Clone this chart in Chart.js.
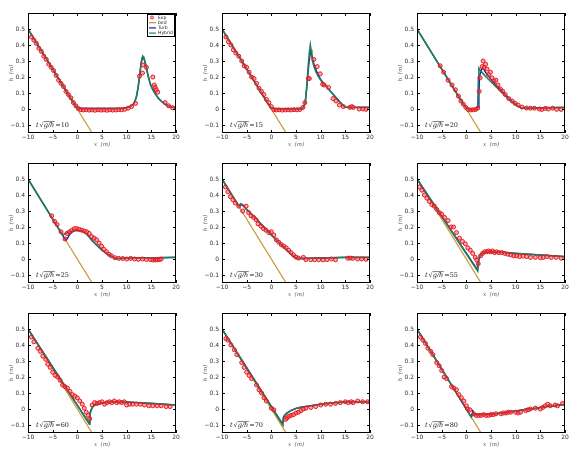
<!DOCTYPE html>
<html>
<head>
<meta charset="utf-8">
<script src="https://cdn.jsdelivr.net/npm/chart.js@4.4.0/dist/chart.umd.min.js"></script>
<style>
  body { margin: 0; background: #fff; }
  #wrap { position: relative; width: 571px; height: 452px; }
  .cell { position: absolute; width: 190px; height: 150px; }
</style>
</head>
<body>
<div id="wrap"></div>
<script>
// t*sqrt(g/h) for each panel
const times = [10, 15, 20, 25, 30, 55, 60, 70, 80];
const xTicks = [-10, -5, 0, 5, 10, 15, 20];
const yTicks = [-0.1, 0, 0.1, 0.2, 0.3, 0.4, 0.5];
const bed = [[-10, 0.5], [3, -0.15]];

// experiment points [x, h]
const exp10 = [[-9.3,0.45],[-8.8,0.43],[-8.3,0.41],[-7.8,0.38],[-7.3,0.36],[-6.8,0.33],[-6.3,0.31],[-5.8,0.28],[-5.3,0.26],[-4.8,0.24],[-4.3,0.21],[-3.8,0.18],[-3.3,0.16],[-2.8,0.14],[-2.3,0.11],[-1.8,0.09],[-1.3,0.07],[-0.8,0.04],[-0.3,0.02],[0.2,0.003],
  [0.7,-0.004],[1.2,-0.006],[1.8,-0.005],[2.4,-0.007],[3,-0.006],[3.6,-0.008],[4.2,-0.005],[4.8,-0.007],[5.4,-0.006],[6,-0.008],[6.6,-0.005],[7.2,-0.007],[7.8,-0.006],[8.4,-0.004],[9,-0.005],[9.6,-0.002],[10.3,0.005],[11,0.015],[11.8,0.035],
  [12.6,0.205],[13.2,0.225],[13.3,0.275],[14,0.26],[15.3,0.2],[15.6,0.15],[15.8,0.135],[16,0.12],[16.3,0.105],[17.8,0.04],[18.5,0.02],[19.3,0.008]];
const exp15 = [[-9.2,0.45],[-8.7,0.42],[-8.2,0.4],[-7.7,0.37],[-7.2,0.35],[-6.6,0.33],[-6,0.3],[-5.5,0.27],[-5,0.26],[-4.5,0.23],[-4,0.2],[-3.5,0.19],[-3,0.16],[-2.5,0.13],[-2,0.11],[-1.5,0.09],[-1,0.06],[-0.5,0.04],[0,0.015],
  [0.5,-0.004],[1,-0.006],[1.6,-0.005],[2.2,-0.007],[2.8,-0.006],[3.4,-0.005],[4,-0.006],[4.6,-0.004],[5.2,-0.005],[5.8,-0.003],[6.4,0.01],[6.8,0.04],[7.5,0.19],[7.7,0.19],[8.6,0.31],[9.3,0.265],[9.9,0.22],[10.4,0.155],[10.7,0.15],[11.6,0.135],[12.5,0.065],[13.1,0.05],[13.8,0.025],[14.6,0.015],[15.9,0.01],[16.3,0.015],[16.6,0.01],[17.8,0.0],[18.6,0.0],[19.2,-0.002]];
const exp20 = [[-5.3,0.27],[-4.6,0.23],[-3.7,0.18],[-2.9,0.15],[-2.2,0.12],[-1.6,0.08],[-1.1,0.05],[-0.6,0.03],[-0.1,0.01],[0.4,-0.004],[0.9,-0.006],[1.4,-0.005],[1.9,-0.003],[2.3,0.005],[2.6,0.11],[2.8,0.195],[3.2,0.265],[3.4,0.3],[3.6,0.26],[3.9,0.28],[4.2,0.25],[4.5,0.215],[4.9,0.23],[5.2,0.195],[5.6,0.175],[6,0.18],[6.4,0.15],[6.9,0.125],[7.4,0.11],[7.9,0.09],[8.6,0.065],[9.3,0.05],[9.9,0.035],[10.5,0.025],[11.3,0.012],[12.2,0.006],[13,0.005],[13.8,0.005],[14.8,0.0],[15.3,-0.003],[16,0.004],[16.6,0.0],[17.5,0.005],[18.3,-0.002],[19.2,-0.003]];
const exp25 = [[-5.2,0.27],[-4.6,0.235],[-4.1,0.215],[-3.3,0.17],[-2.5,0.125],[-2.1,0.16],[-1.6,0.17],[-1.1,0.18],[-0.6,0.19],[-0.1,0.19],[0.4,0.185],[0.9,0.18],[1.4,0.175],[1.9,0.17],[2.4,0.16],[2.9,0.14],[3.4,0.13],[3.9,0.12],[4.4,0.1],[4.9,0.08],[5.4,0.06],[5.9,0.045],[6.4,0.03],[6.9,0.02],[7.6,0.008],[8.4,0.004],[9.2,0.003],[10,0.0],[10.8,0.004],[11.6,0.0],[12.4,-0.002],[13.2,0.0],[14,-0.003],[14.8,-0.004],[15.3,-0.006],[15.8,-0.006],[16.2,-0.005],[16.6,-0.004],[17,0.0]];
const exp30 = [[-9.3,0.45],[-8.8,0.42],[-8.3,0.39],[-7.8,0.37],[-7.3,0.35],[-6.6,0.33],[-5.8,0.3],[-5.1,0.33],[-4.6,0.29],[-4.1,0.27],[-3.6,0.26],[-3.1,0.245],[-2.7,0.22],[-2.1,0.205],[-1.6,0.19],[-1.1,0.18],[-0.5,0.165],[0,0.17],[0.5,0.15],[1,0.12],[1.5,0.105],[2,0.09],[2.5,0.08],[3,0.07],[3.5,0.055],[4,0.04],[4.5,0.025],[5,0.012],[5.5,0.006],[6.5,0.01],[7,-0.004],[8,-0.005],[8.8,-0.004],[9.6,-0.005],[10.5,-0.006],[11.3,-0.004],[12.2,0.0],[13,-0.005],[15.5,0.005],[16,0.006],[16.5,0.004],[17.5,0.0],[18.3,0.0],[19.2,-0.002]];
const exp55 = [[-9.5,0.45],[-9,0.43],[-8.5,0.4],[-8,0.38],[-7.5,0.36],[-7,0.34],[-6.5,0.33],[-6,0.31],[-5.5,0.29],[-5,0.28],[-4.4,0.26],[-3.7,0.24],[-3.1,0.2],[-2.6,0.2],[-2,0.165],[-1.4,0.13],[-0.8,0.11],[-0.2,0.095],[0.3,0.07],[0.8,0.055],[1.3,0.035],[1.8,0.01],[2.1,-0.005],[2.4,-0.03],[2.9,0.02],[3.3,0.035],[3.7,0.045],[4.1,0.045],[4.5,0.05],[4.9,0.045],[5.3,0.05],[5.7,0.04],[6.1,0.045],[6.6,0.04],[7.2,0.04],[7.8,0.035],[8.4,0.03],[9,0.025],[9.6,0.02],[10.2,0.02],[10.8,0.015],[11.5,0.018],[12.2,0.015],[13,0.01],[14,0.01],[15,0.008],[15.6,0.01],[16.3,0.015],[17.2,0.01],[18.2,0.01],[19.2,0.005]];
const exp60 = [[-9.3,0.45],[-8.8,0.42],[-8,0.38],[-7.5,0.36],[-7,0.33],[-6.4,0.31],[-6,0.28],[-5.5,0.26],[-5,0.23],[-4.5,0.21],[-4,0.2],[-3.5,0.18],[-3,0.15],[-2.5,0.14],[-2,0.13],[-1.5,0.11],[-1,0.09],[-0.5,0.08],[0,0.07],[0.5,0.05],[1,0.03],[1.4,0.005],[1.8,-0.02],[2.2,-0.04],[2.5,-0.06],[3,0.025],[3.5,0.04],[4,0.035],[4.5,0.04],[5,0.045],[5.5,0.03],[6,0.04],[6.5,0.045],[7,0.04],[7.5,0.05],[8,0.04],[8.5,0.045],[9,0.04],[9.5,0.045],[10,0.025],[10.6,0.03],[11.2,0.03],[12,0.03],[12.8,0.03],[13.6,0.025],[14.5,0.02],[15.3,0.02],[16.2,0.02],[17,0.02],[18,0.015],[18.8,0.015]];
const exp70 = [[-9.2,0.44],[-8.8,0.43],[-8.2,0.4],[-7.5,0.37],[-7,0.34],[-6,0.29],[-5.5,0.26],[-5,0.23],[-4.5,0.21],[-4,0.19],[-3,0.15],[-2.5,0.12],[-2,0.1],[-1.5,0.07],[-1,0.05],[0,0.005],[0.5,-0.005],[2.9,-0.065],[3.2,-0.055],[3.6,-0.045],[4,-0.04],[4.5,-0.035],[5,-0.025],[5.5,-0.02],[6,-0.01],[6.5,0.0],[7,0.005],[8,0.01],[9,0.015],[10,0.025],[11,0.03],[12,0.03],[13,0.035],[14,0.04],[15,0.045],[15.6,0.04],[16.2,0.045],[16.6,0.04],[17.5,0.05],[18.5,0.045],[19.5,0.045]];
const exp80 = [[-9.3,0.45],[-8.8,0.43],[-8.3,0.41],[-7.8,0.38],[-7.2,0.36],[-6.8,0.34],[-6,0.29],[-5.5,0.27],[-5,0.24],[-4.5,0.2],[-4,0.19],[-3,0.14],[-2.5,0.13],[-2,0.12],[-1.5,0.09],[-1,0.07],[-0.5,0.05],[0,0.02],[0.3,0.0],[0.7,-0.005],[1.5,-0.03],[2,-0.04],[2.5,-0.04],[3,-0.04],[3.5,-0.035],[4,-0.04],[4.5,-0.04],[5,-0.035],[5.5,-0.035],[6,-0.03],[7,-0.03],[7.5,-0.025],[8,-0.025],[8.5,-0.02],[9,-0.02],[10,-0.02],[10.5,-0.025],[11,-0.02],[12,-0.01],[12.5,-0.005],[13,0.0],[14,0.005],[15,0.0],[15.5,0.01],[16,0.02],[16.5,0.03],[17,0.02],[18,0.025],[18.5,0.02],[19.5,0.035]];

// hybrid model
const hyb10 = [[-10,0.5],[-1,0.05],[-0.5,0.027],[-0.2,0.014],[0.2,0.006],[0.6,0.003],[1,0.003],[5,0.003],[9,0.004],[10,0.008],[10.7,0.015],[11.3,0.028],[11.7,0.05],[12,0.08],[12.3,0.13],[12.6,0.2],[12.8,0.255],[13,0.3],[13.15,0.322],[13.3,0.33],[13.45,0.325],[13.6,0.31],[13.8,0.285],[14,0.26],[14.25,0.22],[14.5,0.19],[14.75,0.16],[15,0.14],[15.5,0.11],[16,0.085],[16.5,0.065],[17,0.05],[17.5,0.036],[18,0.025],[19,0.012],[20,0.008]];
const hyb15 = [[-10,0.5],[-1,0.05],[-0.5,0.026],[-0.2,0.012],[0.2,0.004],[0.6,0.001],[1,0.0],[6,0.0],[6.4,0.006],[6.7,0.025],[6.9,0.05],[7.1,0.11],[7.3,0.19],[7.5,0.28],[7.7,0.35],[7.9,0.4],[8.05,0.37],[8.2,0.33],[8.4,0.295],[8.6,0.27],[9,0.235],[9.5,0.205],[10,0.18],[10.5,0.162],[11,0.145],[12,0.11],[13,0.075],[14,0.04],[14.5,0.024],[14.8,0.015],[15.2,0.011],[15.5,0.01],[20,0.01]];
const hyb20 = [[-10,0.5],[-2,0.1],[-1.5,0.075],[-1,0.05],[-0.5,0.025],[0,0.008],[0.5,0.0],[1,-0.003],[2,-0.002],[2.3,0.01],[2.45,0.2],[2.55,0.255],[3,0.235],[4,0.2],[5,0.17],[6,0.14],[7,0.11],[8,0.08],[9,0.05],[10,0.028],[10.6,0.015],[11.2,0.007],[12,0.005],[20,0.01]];
const hyb25 = [[-10,0.5],[-3.2,0.16],[-3,0.15],[-2.7,0.155],[-2,0.165],[-1,0.175],[0,0.18],[1,0.174],[1.5,0.165],[2,0.152],[2.5,0.135],[3,0.115],[4,0.085],[5,0.056],[6,0.033],[7,0.016],[7.5,0.007],[7.9,0.003],[9,0.004],[12,0.008],[16,0.008],[20,0.01]];
const hyb30 = [[-10,0.5],[-6.6,0.33],[-6.2,0.345],[-5.8,0.34],[-5,0.31],[-4,0.28],[-3,0.25],[-2,0.215],[-1,0.185],[0,0.15],[1,0.12],[2,0.09],[3,0.06],[4,0.03],[4.6,0.014],[5,0.006],[5.5,0.003],[6,0.003],[10,0.006],[15,0.01],[20,0.01]];
const hyb55 = [[-10,0.5],[2.3,-0.075],[2.4,-0.03],[2.5,-0.005],[2.7,0.018],[2.95,0.03],[3.2,0.036],[3.6,0.04],[4,0.043],[5,0.045],[6,0.045],[8,0.04],[10,0.035],[15,0.025],[20,0.015]];
const hyb60 = [[-10,0.5],[2.45,-0.095],[2.55,-0.05],[2.65,-0.025],[2.8,-0.008],[3,0.006],[3.2,0.016],[3.6,0.025],[4,0.03],[5,0.037],[7,0.045],[9,0.046],[12,0.04],[15,0.035],[20,0.025]];
const hyb70 = [[-10,0.5],[2.35,-0.1],[2.5,-0.052],[2.75,-0.04],[3,-0.031],[3.5,-0.02],[4,-0.01],[4.5,-0.003],[5,0.003],[6,0.01],[8,0.02],[10,0.03],[13,0.04],[16,0.045],[20,0.045]];
const hyb80 = [[-10,0.5],[1.0,-0.05],[1.3,-0.035],[2,-0.035],[4,-0.033],[6,-0.03],[8,-0.022],[10,-0.012],[12,-0.003],[14,0.005],[16,0.015],[18,0.022],[20,0.03]];

// turbulence model
const turb10 = [[-10,0.5],[-1,0.05],[-0.5,0.027],[-0.2,0.014],[0.2,0.006],[0.6,0.003],[1,0.003],[5,0.003],[9,0.004],[10,0.008],[10.7,0.015],[11.3,0.028],[11.7,0.05],[12,0.08],[12.3,0.13],[12.6,0.2],[12.8,0.25],[13,0.295],[13.15,0.317],[13.3,0.325],[13.45,0.32],[13.6,0.305],[13.8,0.283],[14,0.26],[14.25,0.22],[14.5,0.19],[14.75,0.16],[15,0.14],[15.5,0.11],[16,0.085],[16.5,0.065],[17,0.05],[17.5,0.036],[18,0.025],[19,0.012],[20,0.008]];
const turb15 = [[-10,0.5],[-1,0.05],[-0.5,0.026],[-0.2,0.012],[0.2,0.004],[0.6,0.001],[1,0.0],[6,0.0],[6.4,0.006],[6.7,0.025],[6.9,0.05],[7.2,0.14],[7.4,0.21],[7.6,0.28],[7.8,0.33],[8,0.355],[8.15,0.345],[8.3,0.325],[8.5,0.295],[8.7,0.275],[9,0.25],[9.5,0.212],[10,0.185],[10.5,0.164],[11,0.145],[12,0.11],[13,0.075],[14,0.04],[14.5,0.024],[14.8,0.015],[15.2,0.011],[15.5,0.01],[20,0.01]];
const turb20 = [[-10,0.5],[-2,0.1],[-1.5,0.075],[-1,0.05],[-0.5,0.025],[0,0.008],[0.5,0.0],[1,-0.003],[2,-0.002],[2.4,0.01],[2.55,0.08],[2.65,0.19],[2.8,0.22],[3.05,0.245],[3.3,0.257],[3.6,0.245],[4,0.225],[5,0.185],[6,0.15],[7,0.12],[8,0.085],[9,0.055],[10,0.03],[10.6,0.016],[11.2,0.007],[12,0.005],[20,0.01]];
const turb25 = [[-10,0.5],[-3.2,0.16],[-2.8,0.138],[-2.5,0.125],[-2.3,0.12],[-2.1,0.125],[-1.8,0.14],[-1.5,0.155],[-1,0.17],[-0.5,0.177],[0,0.18],[1,0.174],[1.5,0.165],[2,0.152],[2.5,0.135],[3,0.115],[4,0.085],[5,0.056],[6,0.033],[7,0.016],[7.5,0.007],[7.9,0.003],[9,0.004],[12,0.008],[16,0.008],[20,0.01]];
const turb30 = [[-10,0.5],[-6.6,0.33],[-6.2,0.34],[-5.8,0.335],[-5,0.31],[-4,0.28],[-3,0.25],[-2,0.215],[-1,0.185],[0,0.15],[1,0.12],[2,0.09],[3,0.06],[4,0.03],[4.6,0.014],[5,0.006],[5.5,0.003],[6,0.003],[10,0.006],[15,0.01],[20,0.01]];
const turb55 = [[-10,0.5],[2.2,-0.065],[2.3,-0.04],[2.45,-0.015],[2.7,0.012],[2.95,0.025],[3.2,0.032],[3.6,0.038],[4,0.041],[5,0.044],[6,0.045],[8,0.04],[10,0.035],[15,0.025],[20,0.015]];
const turb60 = [[-10,0.5],[2.4,-0.09],[2.5,-0.045],[2.6,-0.02],[2.8,-0.004],[3,0.008],[3.2,0.018],[3.6,0.027],[4,0.032],[5,0.038],[7,0.045],[9,0.046],[12,0.04],[15,0.035],[20,0.025]];
const turb70 = [[-10,0.5],[2.3,-0.095],[2.45,-0.048],[2.75,-0.037],[3,-0.029],[3.5,-0.018],[4,-0.009],[4.5,-0.002],[5,0.004],[6,0.011],[8,0.021],[10,0.03],[13,0.04],[16,0.045],[20,0.045]];
const turb80 = [[-10,0.5],[1.0,-0.05],[1.2,-0.03],[1.3,-0.005],[1.4,-0.03],[2,-0.035],[4,-0.033],[6,-0.03],[8,-0.022],[10,-0.012],[12,-0.003],[14,0.005],[16,0.015],[18,0.022],[20,0.03]];

const expSets = [exp10, exp15, exp20, exp25, exp30, exp55, exp60, exp70, exp80];
const hybSets = [hyb10, hyb15, hyb20, hyb25, hyb30, hyb55, hyb60, hyb70, hyb80];
const turbSets = [turb10, turb15, turb20, turb25, turb30, turb55, turb60, turb70, turb80];

const RED = '#e8141e', BED = '#c9952d', TURB = '#1c1ca8', HYB = '#1e7f5c';
const colLeft = [0, 194, 389];
const rowTop = [0, 150, 300];

const toXY = arr => arr.map(p => ({ x: p[0], y: p[1] }));
const fmt = v => {
  const s = Math.abs(v) < 1e-9 ? '0' : String(+v.toFixed(1));
  return s.replace('-', '\u2212');
};

// frame, inward ticks, axis titles, annotation, legend
const decor = {
  id: 'decor',
  afterDraw(chart) {
    const { ctx, chartArea: a, scales } = chart;
    const idx = chart.options.panelIndex;
    ctx.save();
    ctx.strokeStyle = '#000';
    ctx.lineWidth = 1;
    ctx.strokeRect(Math.round(a.left) + 0.5, Math.round(a.top) + 0.5,
      Math.round(a.right - a.left) - 1, Math.round(a.bottom - a.top) - 1);
    ctx.beginPath();
    xTicks.forEach(v => {
      const px = Math.round(scales.x.getPixelForValue(v)) + 0.5;
      ctx.moveTo(px, a.bottom); ctx.lineTo(px, a.bottom - 3);
      ctx.moveTo(px, a.top); ctx.lineTo(px, a.top + 3);
    });
    yTicks.forEach(v => {
      const py = Math.round(scales.y.getPixelForValue(v)) + 0.5;
      ctx.moveTo(a.left, py); ctx.lineTo(a.left + 3, py);
      ctx.moveTo(a.right, py); ctx.lineTo(a.right - 3, py);
    });
    ctx.stroke();

    // axis titles
    ctx.fillStyle = '#555';
    ctx.font = 'italic 5.5px "DejaVu Serif"';
    ctx.textAlign = 'center';
    ctx.textBaseline = 'middle';
    ctx.fillText('x  (m)', (a.left + a.right) / 2, 145);
    ctx.save();
    ctx.translate(12, (a.top + a.bottom) / 2);
    ctx.rotate(-Math.PI / 2);
    ctx.fillText('h  (m)', 0, 0);
    ctx.restore();

    // t sqrt(g/h) annotation
    const ty = scales.y.getPixelForValue(-0.105);
    let tx = a.left + 8;
    ctx.fillStyle = '#222';
    ctx.textAlign = 'left';
    ctx.font = 'italic 6.5px "DejaVu Serif"';
    ctx.fillText('t', tx, ty); tx += ctx.measureText('t').width + 1;
    ctx.font = '6.5px "DejaVu Serif"';
    ctx.fillText('\u221A', tx, ty); tx += ctx.measureText('\u221A').width;
    ctx.font = 'italic 6.5px "DejaVu Serif"';
    const w = ctx.measureText('g/h').width;
    ctx.fillText('g/h', tx, ty);
    ctx.strokeStyle = '#222';
    ctx.lineWidth = 0.6;
    ctx.beginPath(); ctx.moveTo(tx, ty - 4.2); ctx.lineTo(tx + w + 0.5, ty - 4.2); ctx.stroke();
    tx += w + 1;
    ctx.font = '6.5px "DejaVu Serif"';
    ctx.fillText('=' + times[idx], tx, ty);

    // legend in first panel
    if (idx === 0) {
      const lx = a.right - 29, ly = a.top + 1, lw = 28, lh = 23;
      ctx.fillStyle = '#fff';
      ctx.fillRect(lx, ly, lw, lh);
      ctx.strokeStyle = '#000';
      ctx.lineWidth = 1;
      ctx.strokeRect(lx + 0.5, ly + 0.5, lw - 1, lh - 1);
      const items = [['Exp', null], ['bed', BED], ['Turb', TURB], ['Hybrid', HYB]];
      ctx.font = '4.5px "DejaVu Sans"';
      ctx.textBaseline = 'middle';
      items.forEach((it, k) => {
        const yy = ly + 3.5 + k * 5.2;
        if (it[1] === null) {
          ctx.strokeStyle = RED; ctx.fillStyle = 'rgba(240,70,70,0.45)'; ctx.lineWidth = 0.8;
          ctx.beginPath(); ctx.arc(lx + 5, yy, 1.5, 0, Math.PI * 2); ctx.fill(); ctx.stroke();
        } else {
          ctx.strokeStyle = it[1]; ctx.lineWidth = 1.2;
          ctx.beginPath(); ctx.moveTo(lx + 2, yy); ctx.lineTo(lx + 9, yy); ctx.stroke();
        }
        ctx.fillStyle = '#222';
        ctx.fillText(it[0], lx + 11, yy);
      });
    }
    ctx.restore();
  }
};

const wrap = document.getElementById('wrap');
times.forEach((t, i) => {
  const div = document.createElement('div');
  div.className = 'cell';
  div.style.left = colLeft[i % 3] + 'px';
  div.style.top = rowTop[Math.floor(i / 3)] + 'px';
  const canvas = document.createElement('canvas');
  canvas.width = 190; canvas.height = 150;
  div.appendChild(canvas);
  wrap.appendChild(div);

  new Chart(canvas, {
    type: 'scatter',
    data: {
      datasets: [
        { label: 'Exp', data: toXY(expSets[i]), showLine: false, pointRadius: 2, pointBorderWidth: 1,
          pointBorderColor: RED, pointBackgroundColor: 'rgba(240,70,70,0.45)' },
        { label: 'Hybrid', data: toXY(hybSets[i]), showLine: true, borderColor: HYB, borderWidth: 1.6,
          pointRadius: 0, tension: 0 },
        { label: 'Turb', data: toXY(turbSets[i]), showLine: true, borderColor: TURB, borderWidth: 1.4,
          pointRadius: 0, tension: 0 },
        { label: 'bed', data: toXY(bed), showLine: true, borderColor: BED, borderWidth: 1.2, pointRadius: 0 }
      ]
    },
    options: {
      panelIndex: i,
      responsive: false,
      animation: false,
      devicePixelRatio: 1,
      layout: { padding: { top: 13, right: 14, left: 0, bottom: 0 } },
      plugins: { legend: { display: false }, tooltip: { enabled: false } },
      scales: {
        x: {
          min: -10, max: 20,
          afterFit: s => { s.height = 17; },
          afterBuildTicks: s => { s.ticks = xTicks.map(v => ({ value: v })); },
          grid: { display: false, drawTicks: false },
          border: { display: false },
          ticks: { padding: 1, maxRotation: 0, autoSkip: false, color: '#333',
                   font: { size: 6, family: 'DejaVu Sans' }, callback: v => fmt(v) }
        },
        y: {
          min: -0.15, max: 0.6,
          afterFit: s => { s.width = 28; },
          afterBuildTicks: s => { s.ticks = yTicks.map(v => ({ value: v })); },
          grid: { display: false, drawTicks: false },
          border: { display: false },
          ticks: { padding: 3, autoSkip: false, color: '#333',
                   font: { size: 6, family: 'DejaVu Sans' }, callback: v => fmt(v) }
        }
      }
    },
    plugins: [decor]
  });
});
</script>
</body>
</html>
